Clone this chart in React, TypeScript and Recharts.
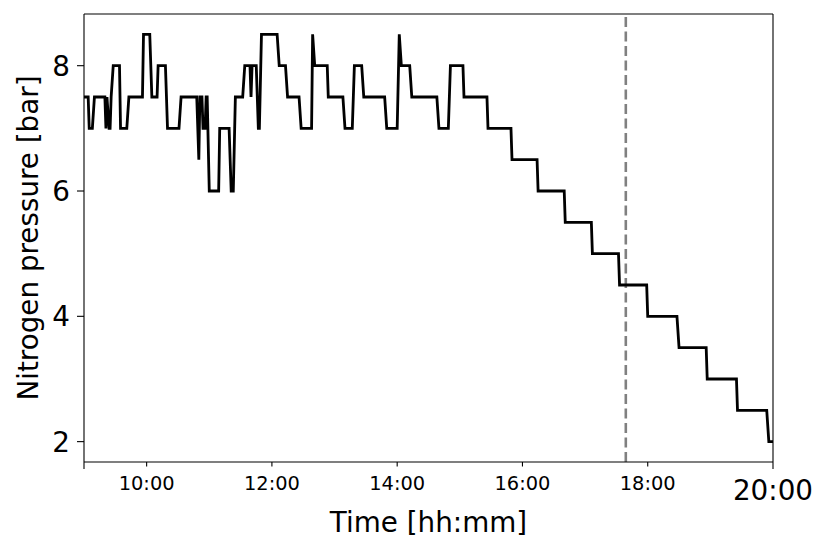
import {
  LineChart,
  Line,
  XAxis,
  YAxis,
  ReferenceLine,
} from "recharts";

// sampled pressure log (hh:mm, bar)
const times = [
  "09:00", "09:04", "09:05", "09:08", "09:10", "09:20", "09:21", "09:22", "09:24", "09:25",
  "09:26", "09:28", "09:34", "09:35", "09:41", "09:43", "09:56", "09:57", "10:03", "10:05",
  "10:10", "10:11", "10:18", "10:20", "10:31", "10:33", "10:48", "10:50", "10:51", "10:53",
  "10:54", "10:56", "10:57", "10:58", "11:00", "11:09", "11:10", "11:19", "11:21", "11:23",
  "11:25", "11:32", "11:34", "11:39", "11:40", "11:41", "11:45", "11:47", "11:48", "11:50",
  "12:05", "12:07", "12:13", "12:15", "12:26", "12:28", "12:38", "12:39", "12:41", "12:53",
  "12:54", "13:08", "13:10", "13:17", "13:19", "13:26", "13:28", "13:48", "13:50", "14:00",
  "14:02", "14:04", "14:12", "14:14", "14:38", "14:40", "14:49", "14:51", "15:03", "15:04",
  "15:26", "15:27", "15:49", "15:50", "16:14", "16:15", "16:40", "16:41", "17:06", "17:07",
  "17:32", "17:33", "17:59", "18:00", "18:28", "18:30", "18:56", "18:57", "19:25", "19:26",
  "19:54", "19:56", "20:00",
];

const pressure = [
  7.5, 7.5, 7, 7, 7.5, 7.5, 7, 7.5, 7, 7,
  7.5, 8, 8, 7, 7, 7.5, 7.5, 8.5, 8.5, 7.5,
  7.5, 8, 8, 7, 7, 7.5, 7.5, 6.5, 7.5, 7.5,
  7, 7, 7.5, 7.5, 6, 6, 7, 7, 6, 6,
  7.5, 7.5, 8, 8, 7.5, 8, 8, 7, 7, 8.5,
  8.5, 8, 8, 7.5, 7.5, 7, 7, 8.5, 8, 8,
  7.5, 7.5, 7, 7, 8, 8, 7.5, 7.5, 7, 7,
  8.5, 8, 8, 7.5, 7.5, 7, 7, 8, 8, 7.5,
  7.5, 7, 7, 6.5, 6.5, 6, 6, 5.5, 5.5, 5,
  5, 4.5, 4.5, 4, 4, 3.5, 3.5, 3, 3, 2.5,
  2.5, 2, 2,
];

const xTicks = ["09:00", "10:00", "12:00", "14:00", "16:00", "18:00", "20:00"];
const majorTicks = ["09:00", "20:00"];
const yTicks = [2, 4, 6, 8];
const markerTime = "17:39";

const toMin = (s: string) => {
  const [h, m] = s.split(":").map(Number);
  return h * 60 + m;
};
const fmt = (v: number) => {
  const h = Math.floor(v / 60);
  const m = Math.round(v % 60);
  return `${String(h).padStart(2, "0")}:${String(m).padStart(2, "0")}`;
};

const data = times.map((t, i) => ({ t: toMin(t), p: pressure[i] }));

const W = 830;
const H = 556;
const margin = { top: 14, right: 57, left: 0, bottom: 0 };
const yAxisW = 84;
const xAxisH = 94;
const plotBottom = H - xAxisH;
const font = "'DejaVu Sans', sans-serif";

const TimeTick = (props: any) => {
  const { x, y, payload } = props;
  const label = fmt(payload.value);
  const major = majorTicks.includes(label);
  return (
    <g>
      <line x1={x} x2={x} y1={y} y2={y + (major ? 7 : 4.5)} stroke="#000" strokeWidth={1.1} />
      {label !== "09:00" && (
        <text
          x={x}
          y={y + (major ? 38 : 28)}
          textAnchor="middle"
          fontSize={major ? 27.8 : 19.4}
          fontFamily={font}
          fill="#000"
        >
          {label}
        </text>
      )}
    </g>
  );
};

export default function App() {
  const midY = margin.top + (plotBottom - margin.top) / 2;
  const midX = yAxisW + (W - margin.right - yAxisW) / 2;
  return (
    <div style={{ width: W, height: H }}>
      <style>{"body{margin:0}"}</style>
      <LineChart width={W} height={H} data={data} margin={margin}>
        <XAxis
          dataKey="t"
          type="number"
          domain={[toMin("09:00"), toMin("20:00")]}
          ticks={xTicks.map(toMin)}
          allowDataOverflow
          height={xAxisH}
          tickSize={0}
          tickMargin={0}
          tickLine={false}
          axisLine={{ stroke: "#000", strokeWidth: 1.1 }}
          tick={<TimeTick />}
          interval={0}
          label={() => (
            <text x={midX} y={532} textAnchor="middle" fontSize={27.8} fontFamily={font} fill="#000">
              Time [hh:mm]
            </text>
          )}
        />
        <YAxis
          type="number"
          domain={[1.675, 8.825]}
          ticks={yTicks}
          allowDataOverflow
          width={yAxisW}
          tickSize={7}
          tickMargin={7}
          tickLine={{ stroke: "#000", strokeWidth: 1.1 }}
          axisLine={{ stroke: "#000", strokeWidth: 1.1 }}
          tick={{ fontSize: 27.8, fill: "#000", fontFamily: font }}
          label={() => (
            <text
              x={38}
              y={midY}
              transform={`rotate(-90, 38, ${midY})`}
              textAnchor="middle"
              fontSize={27.8}
              fontFamily={font}
              fill="#000"
            >
              Nitrogen pressure [bar]
            </text>
          )}
        />
        <ReferenceLine y={8.825} stroke="#000" strokeWidth={1.1} />
        <ReferenceLine x={toMin("20:00")} stroke="#000" strokeWidth={1.1} />
        <ReferenceLine
          x={toMin(markerTime)}
          stroke="#808080"
          strokeWidth={2.6}
          strokeDasharray="10 4.5"
        />
        <Line
          type="linear"
          dataKey="p"
          stroke="#000"
          strokeWidth={2.8}
          dot={false}
          activeDot={false}
          isAnimationActive={false}
        />
      </LineChart>
    </div>
  );
}
